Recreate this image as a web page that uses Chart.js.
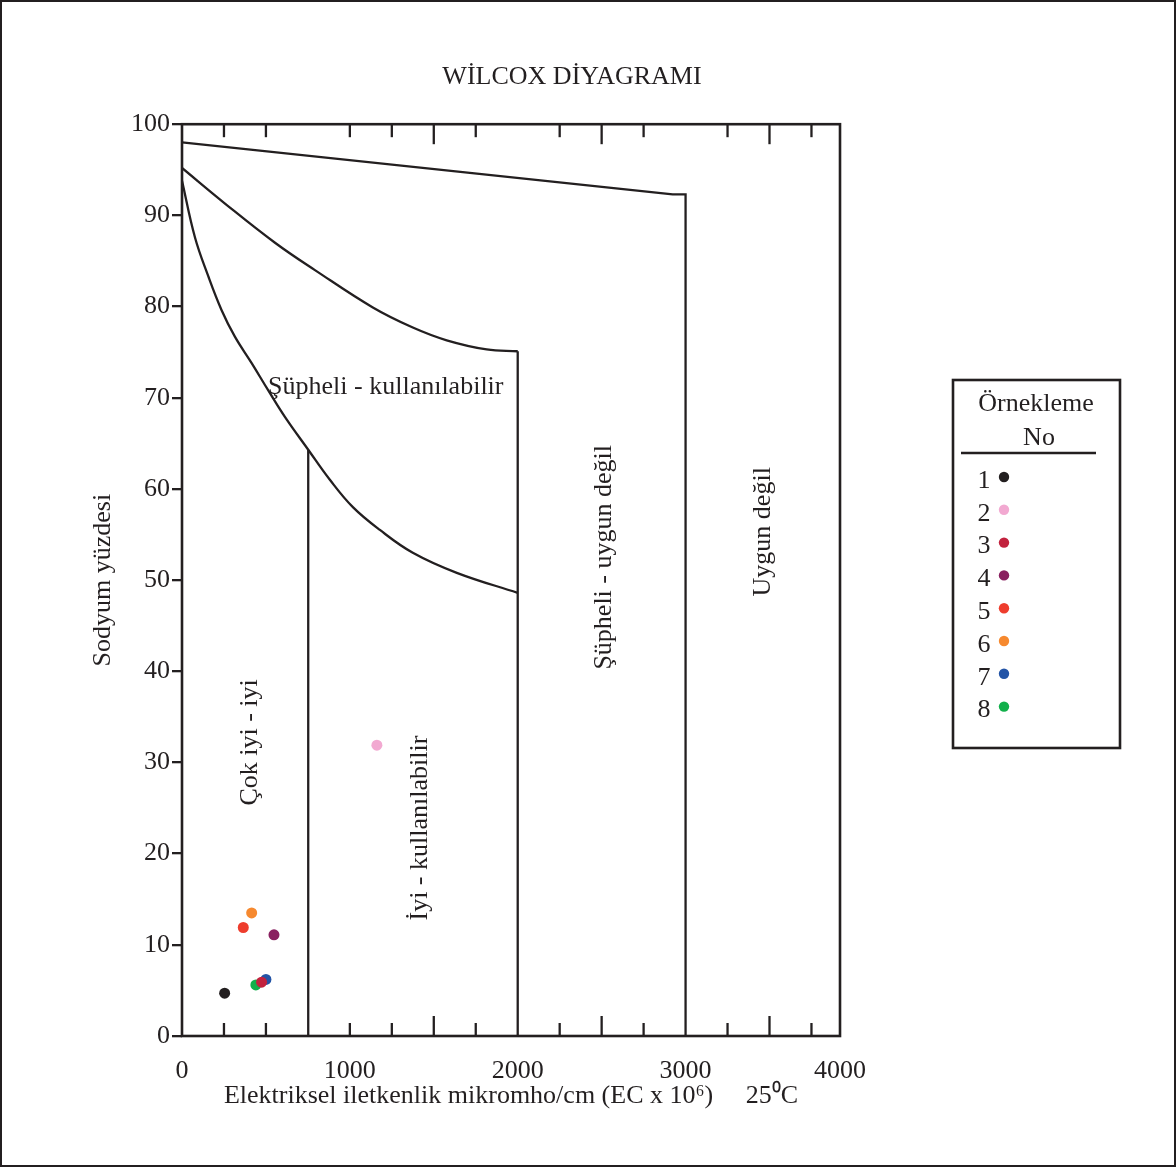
<!DOCTYPE html>
<html lang="tr">
<head>
<meta charset="utf-8">
<title>Wilcox Diyagramı</title>
<script src="https://cdn.jsdelivr.net/npm/chart.js@4.4.1/dist/chart.umd.min.js"></script>
<style>
  html, body { margin: 0; padding: 0; background: #fff; }
  canvas { display: block; }
</style>
</head>
<body>
<canvas id="wilcox" width="1176" height="1167"></canvas>
<script>
const ink = '#231f20'
const serif = '"Liberation Serif", "Times New Roman", serif'

// örnekler (EC, Na %)
const sampleNames = ['1', '2', '3', '4', '5', '6', '7', '8']
const sampleEC = [254, 1161, 474, 548, 365, 415, 500, 440]
const sampleNa = [4.7, 31.9, 5.9, 11.1, 11.9, 13.5, 6.2, 5.6]
const sampleColors = ['#231f20', '#f2a9d1', '#c2223e', '#8a2060', '#ee3d2d', '#f6892f', '#2354a6', '#12b04b']

// sınır çizgileri
const topLineEC = [0, 2923, 3000, 3000]
const topLineNa = [98.0, 92.3, 92.3, 0]
const midCurveEC = [0, 256, 554, 792, 1137, 1375, 1577, 1815, 2000]
const midCurveNa = [95.2, 91.3, 87.0, 84.0, 79.9, 77.7, 76.3, 75.3, 75.1]
const lowCurveEC = [0, 77, 157, 236, 315, 415, 514, 613, 752, 881, 1018, 1179, 1375, 1637, 2000]
const lowCurveNa = [93.8, 87.6, 83.3, 79.6, 76.7, 73.8, 70.8, 67.9, 64.3, 61.0, 58.0, 55.5, 53.0, 50.8, 48.6]
const line750EC = [752, 752]
const line750Na = [64.3, 0]
const line2000EC = [2000, 2000]
const line2000Na = [75.1, 0]

// bölge adları
const zoneNames = ['Şüpheli - kullanılabilir', 'Çok iyi - iyi', 'İyi - kullanılabilir', 'Şüpheli - uygun değil', 'Uygun değil']
const zoneEC = [1214, 405, 1417, 2518, 3464]
const zoneNa = [71.2, 32.2, 22.8, 52.5, 55.3]
const zoneVertical = [false, true, true, true, true]

// eksenler
const xTickValues = [0, 1000, 2000, 3000, 3920]
const xTickLabels = ['0', '1000', '2000', '3000', '4000']
const xMinorTicks = [250, 500, 1000, 1250, 1500, 1750, 2250, 2500, 2750, 3250, 3500, 3750]
const xLongTicks = [1500, 2500, 3500]

const toPoints = (xs, ys) => xs.map((x, i) => ({ x: x, y: ys[i] }))

const boundary = (xs, ys, smooth) => ({
  data: toPoints(xs, ys),
  showLine: true,
  borderColor: ink,
  borderWidth: 2.3,
  pointRadius: 0,
  tension: smooth ? 0.4 : 0,
  isSample: false
})

const datasets = [
  boundary(topLineEC, topLineNa, false),
  boundary(midCurveEC, midCurveNa, true),
  boundary(lowCurveEC, lowCurveNa, true),
  boundary(line750EC, line750Na, false),
  boundary(line2000EC, line2000Na, false)
]
sampleNames.forEach((name, i) => {
  datasets.push({
    label: name,
    data: [{ x: sampleEC[i], y: sampleNa[i] }],
    backgroundColor: sampleColors[i],
    borderWidth: 0,
    pointRadius: 5.5,
    isSample: true
  })
})

const font26 = { family: serif, size: 26, lineHeight: 1.2 }

const line = (ctx, x1, y1, x2, y2) => {
  ctx.beginPath()
  ctx.moveTo(x1, y1)
  ctx.lineTo(x2, y2)
  ctx.stroke()
}

const decorations = {
  id: 'decorations',
  afterDatasetsDraw(chart) {
    const ctx = chart.ctx
    const area = chart.chartArea
    const xs = chart.scales.x
    const ys = chart.scales.y
    ctx.save()
    ctx.strokeStyle = ink
    ctx.fillStyle = ink

    // iç çentikler
    ctx.lineWidth = 2.3
    xMinorTicks.forEach(v => {
      const px = xs.getPixelForValue(v)
      const len = xLongTicks.includes(v) ? 20 : 13
      line(ctx, px, area.bottom, px, area.bottom - len)
      line(ctx, px, area.top, px, area.top + len)
    })

    // çerçeve
    ctx.lineWidth = 2.6
    ctx.strokeRect(area.left, area.top, area.right - area.left, area.bottom - area.top)

    // bölge adları
    ctx.font = '26px ' + serif
    ctx.textAlign = 'center'
    ctx.textBaseline = 'middle'
    zoneNames.forEach((name, i) => {
      ctx.save()
      ctx.translate(xs.getPixelForValue(zoneEC[i]), ys.getPixelForValue(zoneNa[i]))
      if (zoneVertical[i]) ctx.rotate(-Math.PI / 2)
      ctx.fillText(name, 0, 0)
      ctx.restore()
    })
    ctx.restore()
  },
  afterDraw(chart) {
    const ctx = chart.ctx
    ctx.save()
    ctx.strokeStyle = ink
    ctx.fillStyle = ink

    // dış çerçeve
    ctx.lineWidth = 2
    ctx.strokeRect(1, 1, chart.width - 2, chart.height - 2)

    // lejant
    const box = { left: 953, top: 380, right: 1120, bottom: 748 }
    ctx.lineWidth = 2.6
    ctx.strokeRect(box.left, box.top, box.right - box.left, box.bottom - box.top)
    ctx.font = '26px ' + serif
    ctx.textAlign = 'center'
    ctx.textBaseline = 'middle'
    ctx.fillText('Örnekleme', 1036, 404)
    ctx.fillText('No', 1039, 438)
    line(ctx, 961, 453, 1096, 453)

    const samples = chart.data.datasets.filter(d => d.isSample)
    samples.forEach((d, i) => {
      const y = 477 + i * 32.8
      ctx.fillStyle = ink
      ctx.fillText(d.label, 984, y + 4)
      ctx.fillStyle = d.backgroundColor
      ctx.beginPath()
      ctx.arc(1004, y, 5.2, 0, Math.PI * 2)
      ctx.fill()
    })
    ctx.restore()
  }
}

new Chart(document.getElementById('wilcox'), {
  type: 'scatter',
  data: { datasets: datasets },
  options: {
    responsive: false,
    animation: false,
    layout: { padding: { left: 0, right: 32, top: 0, bottom: 0 } },
    plugins: {
      legend: { display: false },
      tooltip: { enabled: false },
      title: {
        display: true,
        text: 'WİLCOX DİYAGRAMI',
        color: ink,
        font: { family: serif, size: 26, weight: 'normal', lineHeight: 1.2 },
        padding: { top: 62, bottom: 31 }
      }
    },
    scales: {
      x: {
        type: 'linear',
        min: 0,
        max: 3920,
        afterBuildTicks: s => { s.ticks = xTickValues.map(v => ({ value: v })) },
        afterFit: s => { s.height = 131 },
        ticks: {
          callback: (v, i) => xTickLabels[i],
          color: ink,
          font: font26,
          padding: 12,
          maxRotation: 0,
          autoSkip: false
        },
        grid: { display: false },
        border: { display: false },
        title: {
          display: true,
          text: 'Elektriksel iletkenlik mikromho/cm (EC x 10⁶)     25⁰C',
          color: ink,
          font: font26,
          padding: { top: 0, bottom: 55 }
        }
      },
      y: {
        type: 'linear',
        min: 0,
        max: 100,
        afterFit: s => { s.width = 182 },
        ticks: { stepSize: 10, color: ink, font: font26, padding: 2 },
        grid: { drawOnChartArea: false, drawTicks: true, tickLength: 10, color: ink, lineWidth: 2.3 },
        border: { display: false },
        title: {
          display: true,
          text: 'Sodyum yüzdesi',
          color: ink,
          font: font26,
          padding: { top: 88, bottom: 0 }
        }
      },
      right: {
        type: 'linear',
        axis: 'y',
        position: 'right',
        afterFit: s => { s.width = 304 },
        ticks: { display: false },
        grid: { display: false },
        border: { display: false }
      }
    }
  },
  plugins: [decorations]
})
</script>
</body>
</html>
